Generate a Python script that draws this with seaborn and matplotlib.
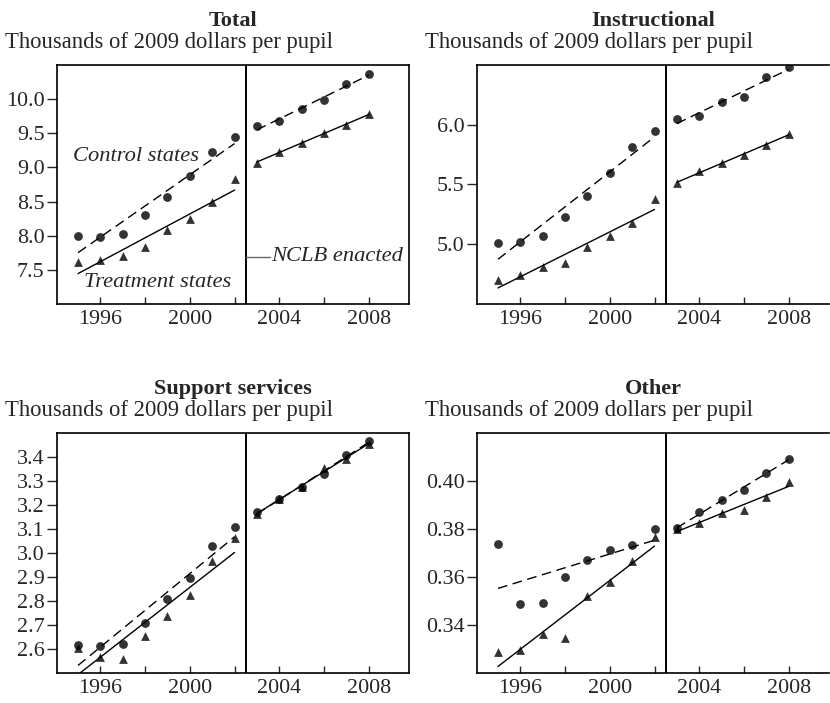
# Spending per pupil before and after NCLB: control vs treatment states
import seaborn as sns
import matplotlib.pyplot as plt
import pandas as pd
import numpy as np

# --- data ---
years = list(range(1995, 2009))

total_control = [7.99, 7.98, 8.02, 8.31, 8.57, 8.87, 9.22, 9.44,
                 9.60, 9.68, 9.85, 9.98, 10.22, 10.37]
total_treatment = [7.62, 7.64, 7.70, 7.83, 8.08, 8.25, 8.50, 8.83,
                   9.07, 9.23, 9.36, 9.50, 9.62, 9.78]

instr_control = [5.01, 5.02, 5.07, 5.23, 5.40, 5.60, 5.81, 5.95,
                 6.05, 6.07, 6.19, 6.23, 6.40, 6.48]
instr_treatment = [4.70, 4.74, 4.81, 4.84, 4.98, 5.07, 5.18, 5.38,
                   5.51, 5.61, 5.68, 5.75, 5.83, 5.92]

support_control = [2.618, 2.611, 2.621, 2.707, 2.809, 2.897, 3.028, 3.107,
                   3.170, 3.224, 3.277, 3.330, 3.410, 3.466]
support_treatment = [2.604, 2.568, 2.558, 2.656, 2.739, 2.827, 2.967, 3.065,
                     3.163, 3.224, 3.277, 3.354, 3.392, 3.455]

other_control = [0.3736, 0.3487, 0.3490, 0.3600, 0.3670, 0.3711, 0.3733, 0.3800,
                 0.3803, 0.3871, 0.3920, 0.3963, 0.4035, 0.4093]
other_treatment = [0.3288, 0.3297, 0.3362, 0.3346, 0.3522, 0.3578, 0.3667, 0.3767,
                   0.3800, 0.3826, 0.3868, 0.3880, 0.3935, 0.3996]

titles = ["Total", "Instructional", "Support services", "Other"]
subtitle = "Thousands of 2009 dollars per pupil"
nclb_year = 2002.5

panels = [
    (total_control, total_treatment, (7.0, 10.5), [7.5, 8.0, 8.5, 9.0, 9.5, 10.0], "%.1f"),
    (instr_control, instr_treatment, (4.5, 6.5), [5.0, 5.5, 6.0], "%.1f"),
    (support_control, support_treatment, (2.5, 3.5),
     [2.6, 2.7, 2.8, 2.9, 3.0, 3.1, 3.2, 3.3, 3.4], "%.1f"),
    (other_control, other_treatment, (0.32, 0.42), [0.34, 0.36, 0.38, 0.40], "%.2f"),
]

# --- style ---
sns.set_style("ticks")
plt.rcParams["font.family"] = ["Liberation Serif", "DejaVu Serif"]

fig = plt.figure(figsize=(8.3, 7.03), dpi=100)
positions = [
    [0.0687, 0.5676, 0.424, 0.340],
    [0.5747, 0.5676, 0.424, 0.340],
    [0.0687, 0.0427, 0.424, 0.341],
    [0.5747, 0.0427, 0.424, 0.341],
]

for i, (ctrl, treat, ylim, yticks, fmt) in enumerate(panels):
    ax = fig.add_axes(positions[i])
    df = pd.DataFrame({"year": years, "control": ctrl, "treatment": treat})
    pre = df[df["year"] < nclb_year]
    post = df[df["year"] > nclb_year]

    for part in (pre, post):
        sns.regplot(data=part, x="year", y="control", ax=ax, ci=None,
                    marker="o", color="black",
                    scatter_kws={"s": 40, "linewidths": 0},
                    line_kws={"lw": 1.0, "ls": (0, (7, 4))})
        sns.regplot(data=part, x="year", y="treatment", ax=ax, ci=None,
                    marker="^", color="black",
                    scatter_kws={"s": 40, "linewidths": 0},
                    line_kws={"lw": 1.0})

    ax.axvline(nclb_year, color="black", lw=1.4)
    ax.set_xlim(1994.06, 2009.8)
    ax.set_ylim(*ylim)
    ax.set_xticks([1996, 2000, 2004, 2008])
    ax.set_xticks([1998, 2002, 2006], minor=True)
    ax.set_yticks(yticks)
    ax.yaxis.set_major_formatter(plt.FormatStrFormatter(fmt))
    ax.tick_params(axis="x", which="both", direction="in", length=5,
                   width=1, labelsize=15.8, pad=4)
    ax.tick_params(axis="y", direction="out", length=7, width=1,
                   labelsize=15.8, pad=2)
    ax.set_xlabel("")
    ax.set_ylabel("")
    for s in ax.spines.values():
        s.set_linewidth(1.2)
        s.set_color("black")
    if i % 2 == 1:
        ax.spines["right"].set_visible(False)

    ax.set_title(titles[i], fontsize=16, fontweight="bold", pad=28)
    ax.text(-0.148, 1.095, subtitle, transform=ax.transAxes, fontsize=16.3,
            ha="left", va="center")

    if i == 0:
        ax.text(1994.79, 9.16, "Control states", fontsize=16.2, style="italic",
                ha="left", va="center")
        ax.text(1995.28, 7.31, "Treatment states", fontsize=16.2, style="italic",
                ha="left", va="center")
        ax.plot([nclb_year, 2003.6], [7.69, 7.69], color="0.4", lw=1)
        ax.text(2003.62, 7.69, "NCLB enacted", fontsize=16.2, style="italic",
                ha="left", va="center")

fig.savefig("out.png", dpi=100)
plt.close()
